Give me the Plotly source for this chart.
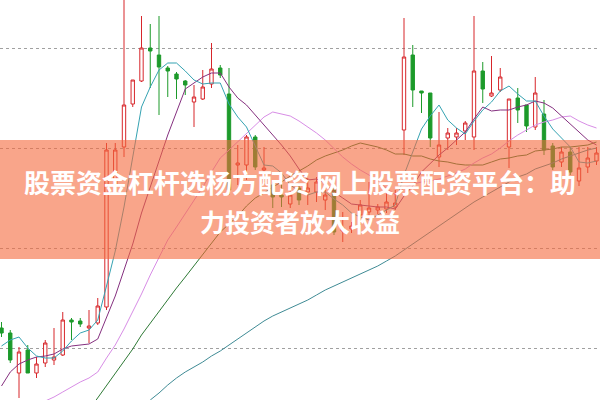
import plotly.graph_objects as go

days = list(range(69))

opens = [9.20, 9.15, 8.75, 8.98, 8.75, 8.85, 8.88, 8.93, 9.28, 9.27,
         9.20, 9.25, 9.41, 10.63, 11.01, 11.44, 11.67, 12.00, 11.93, 11.80,
         11.74, 11.67, 11.46, 11.49, 11.64, 11.80, 11.54, 10.83, 10.83, 11.11,
         10.78, 10.63, 10.53, 10.44, 10.60, 10.56, 10.56, 10.48, 10.58, 10.17,
         10.19, 10.33, 10.36, 10.38, 10.39, 10.41, 11.18, 11.93, 11.57, 11.55,
         10.91, 11.10, 11.11, 11.17, 11.11, 11.77, 11.52, 11.58, 11.01, 11.50,
         11.43, 11.21, 11.34, 11.02, 10.86, 10.96, 10.67, 10.81, 10.87]
highs = [9.26, 9.18, 9.01, 9.03, 8.91, 9.08, 9.20, 9.36, 9.30, 9.30,
         9.38, 9.50, 11.05, 11.05, 12.56, 11.68, 12.32, 12.24, 12.32, 11.82,
         11.76, 11.68, 11.63, 11.78, 12.05, 11.83, 11.80, 11.03, 11.13, 11.13,
         11.01, 10.66, 10.65, 10.60, 10.65, 10.70, 10.71, 10.58, 10.62, 10.36,
         10.26, 10.48, 10.66, 10.44, 10.56, 10.58, 12.30, 12.03, 11.57, 11.55,
         11.36, 11.20, 11.20, 11.27, 12.32, 11.86, 11.92, 11.80, 11.49, 11.60,
         11.43, 11.71, 11.48, 11.05, 11.01, 11.01, 11.01, 11.01, 11.01]
lows = [9.11, 8.85, 8.50, 8.75, 8.70, 8.81, 8.83, 8.92, 9.08, 9.21,
        9.05, 9.23, 9.38, 10.58, 10.91, 11.41, 11.66, 11.60, 11.33, 11.51,
        11.49, 11.53, 11.21, 11.48, 11.60, 11.70, 10.53, 10.63, 10.68, 10.78,
        10.66, 10.40, 10.41, 10.40, 10.43, 10.43, 10.46, 10.38, 10.13, 10.06,
        10.15, 10.23, 10.31, 10.34, 10.35, 10.38, 10.93, 11.41, 11.35, 11.01,
        10.81, 10.98, 11.03, 11.08, 10.98, 11.45, 11.51, 11.56, 10.80, 11.25,
        11.16, 11.18, 10.93, 10.78, 10.81, 10.73, 10.62, 10.75, 10.83]
closes = [9.15, 8.88, 8.96, 8.75, 8.84, 9.05, 8.91, 9.28, 9.26, 9.24,
          9.22, 9.42, 10.98, 10.98, 11.43, 11.68, 12.00, 11.97, 11.81, 11.77,
          11.69, 11.63, 11.51, 11.61, 11.79, 11.73, 10.58, 10.85, 11.11, 10.81,
          10.80, 10.51, 10.51, 10.53, 10.48, 10.60, 10.66, 10.53, 10.16, 10.20,
          10.22, 10.43, 10.40, 10.41, 10.46, 10.45, 11.91, 11.58, 11.55, 11.10,
          11.03, 11.15, 11.15, 11.25, 11.77, 11.59, 11.55, 11.71, 11.49, 11.38,
          11.22, 11.55, 10.98, 10.81, 10.96, 10.76, 10.80, 10.90, 10.95]

ma5 = [9.02, 9.08, 9.11, 9.00, 8.92, 8.90, 8.90, 8.97, 9.07, 9.15,
       9.18, 9.28, 9.62, 9.97, 10.41, 10.90, 11.41, 11.61, 11.78, 11.85,
       11.85, 11.77, 11.68, 11.64, 11.65, 11.65, 11.44, 11.31, 11.21, 11.02,
       10.83, 10.82, 10.75, 10.63, 10.57, 10.53, 10.56, 10.56, 10.49, 10.43,
       10.35, 10.31, 10.28, 10.33, 10.38, 10.43, 10.73, 10.96, 11.19, 11.32,
       11.43, 11.28, 11.20, 11.14, 11.27, 11.38, 11.46, 11.57, 11.62, 11.54,
       11.47, 11.47, 11.32, 11.19, 11.10, 11.01, 10.86, 10.85, 10.87]
ma10 = [8.62, 8.76, 8.84, 8.88, 8.91, 8.92, 8.94, 8.99, 9.02, 9.03,
        9.04, 9.09, 9.30, 9.52, 9.78, 10.04, 10.35, 10.62, 10.87, 11.13,
        11.37, 11.59, 11.65, 11.71, 11.75, 11.75, 11.61, 11.50, 11.43, 11.33,
        11.24, 11.13, 11.03, 10.92, 10.79, 10.68, 10.69, 10.65, 10.56, 10.50,
        10.44, 10.43, 10.42, 10.41, 10.41, 10.39, 10.52, 10.62, 10.76, 10.85,
        10.93, 11.00, 11.08, 11.16, 11.29, 11.41, 11.37, 11.38, 11.38, 11.41,
        11.43, 11.47, 11.45, 11.40, 11.32, 11.24, 11.17, 11.08, 11.03]
ma20 = [None] * 5 + [
        8.47, 8.51, 8.56, 8.61, 8.66, 8.70, 8.76, 8.90, 9.03, 9.19,
        9.36, 9.54, 9.73, 9.91, 10.08, 10.21, 10.34, 10.47, 10.61, 10.76,
        10.90, 10.98, 11.06, 11.15, 11.23, 11.31, 11.36, 11.34, 11.32, 11.27,
        11.21, 11.15, 11.08, 10.99, 10.91, 10.84, 10.78, 10.73, 10.67, 10.60,
        10.53, 10.60, 10.64, 10.66, 10.67, 10.69, 10.72, 10.75, 10.79, 10.85,
        10.90, 10.94, 11.00, 11.07, 11.13, 11.18, 11.23, 11.26, 11.28, 11.31,
        11.32, 11.27, 11.23, 11.20]
ma30 = [None] * 10 + [
        8.38, 8.50, 8.62, 8.74, 8.86, 8.99, 9.13, 9.25, 9.37, 9.48,
        9.60, 9.71, 9.82, 9.93, 10.04, 10.16, 10.24, 10.32, 10.42, 10.50,
        10.55, 10.61, 10.66, 10.72, 10.77, 10.82, 10.88, 10.92, 10.95, 10.98,
        11.02, 11.05, 11.03, 11.01, 10.98, 10.94, 10.94, 10.92, 10.92, 10.89,
        10.87, 10.86, 10.84, 10.83, 10.83, 10.83, 10.86, 10.89, 10.90, 10.92,
        10.93, 10.97, 10.98, 10.99, 11.01, 11.01, 11.02, 11.03, 11.06]
ma60 = [None] * 17 + [
        8.48, 8.55, 8.63, 8.70, 8.76, 8.81, 8.86, 8.92, 8.97, 9.03,
        9.09, 9.15, 9.21, 9.27, 9.32, 9.36, 9.40, 9.44, 9.48, 9.53,
        9.58, 9.62, 9.66, 9.70, 9.74, 9.78, 9.82, 9.87, 9.92, 9.98,
        10.04, 10.10, 10.16, 10.22, 10.28, 10.34, 10.40, 10.46, 10.51, 10.56,
        10.61, 10.66, 10.71, 10.74, 10.79, 10.82, 10.85, 10.89, 10.92, 10.95,
        10.98, 11.00]

grid_levels = [9, 10, 11, 12]
title_line1 = "股票资金杠杆选杨方配资 网上股票配资平台：助"
title_line2 = "力投资者放大收益"

fig = go.Figure()
fig.add_trace(go.Candlestick(
    x=days, open=opens, high=highs, low=lows, close=closes,
    increasing=dict(line=dict(color="#d7262b", width=1), fillcolor="white"),
    decreasing=dict(line=dict(color="#1c9a2a", width=1), fillcolor="#1c9a2a"),
    whiskerwidth=0, showlegend=False, hoverinfo="skip"))

lines = [(ma60, "#3f8b95"), (ma30, "#2f7a36"), (ma20, "#d88de6"),
         (ma10, "#85307f"), (ma5, "#35a3b2")]
for vals, col in lines:
    fig.add_trace(go.Scatter(x=days, y=vals, mode="lines",
                             line=dict(color=col, width=1),
                             showlegend=False, hoverinfo="skip"))

fig.add_shape(type="rect", xref="paper", yref="paper",
              x0=0, x1=1, y0=1 - 259 / 400, y1=1 - 140 / 400,
              fillcolor="rgba(245,105,60,0.6)", line=dict(width=0), layer="above")

fig.add_annotation(text=title_line1, xref="paper", yref="paper", x=0.5, y=1 - 181 / 400,
                   xanchor="center", yanchor="middle", showarrow=False,
                   font=dict(family="Noto Sans CJK SC", size=26, color="white", weight="bold"))
fig.add_annotation(text=title_line2, xref="paper", yref="paper", x=0.5, y=1 - 221 / 400,
                   xanchor="center", yanchor="middle", showarrow=False,
                   font=dict(family="Noto Sans CJK SC", size=25, color="white", weight="bold"))

fig.update_layout(
    width=600, height=400, margin=dict(l=0, r=0, t=0, b=0),
    paper_bgcolor="white", plot_bgcolor="white", boxgap=0.45,
    hovermode=False,
    xaxis=dict(range=[-0.171, 68.40], showgrid=False, zeroline=False,
               showticklabels=False, ticks="", rangeslider=dict(visible=False)),
    yaxis=dict(range=[8.48, 12.48], tickvals=grid_levels, showgrid=True,
               gridcolor="#a0a0a0", griddash="dot", gridwidth=1,
               zeroline=False, showticklabels=False, ticks=""),
)

fig.write_html("out.html", config={"displayModeBar": False},
               post_script="document.body.style.margin='0';")
